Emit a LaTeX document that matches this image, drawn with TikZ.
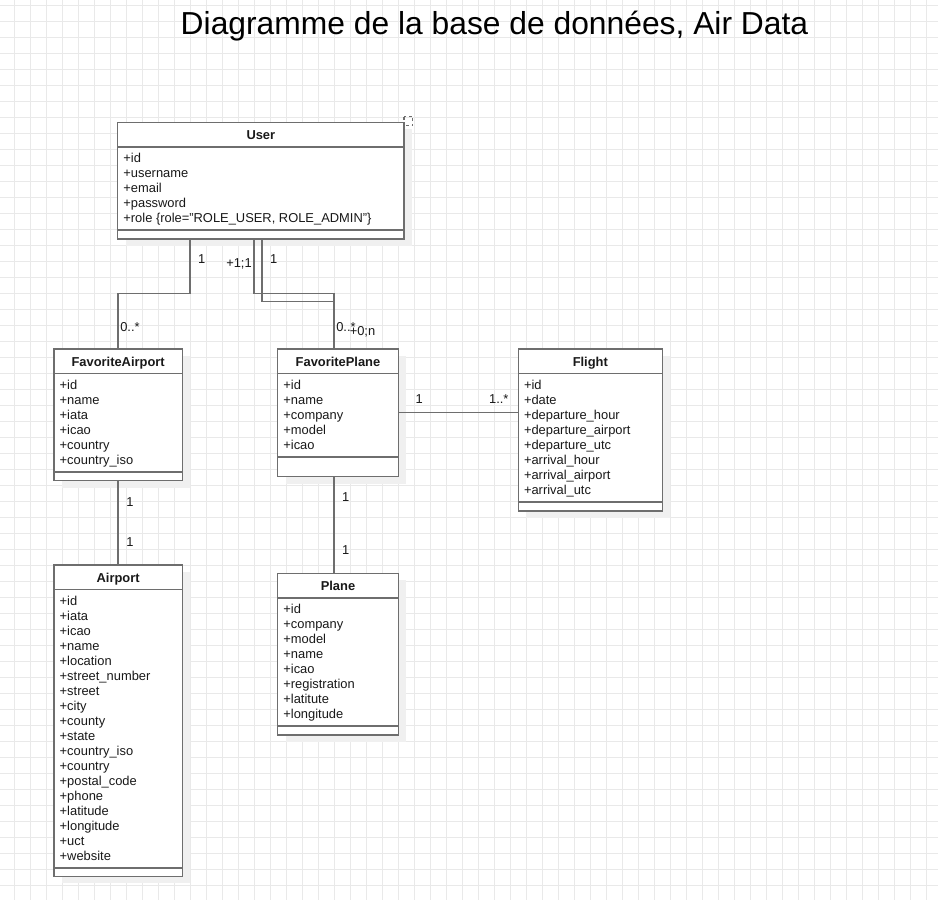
\documentclass[tikz,border=0pt]{standalone}
\usepackage{fontspec}
\setmainfont{Liberation Sans}
\usetikzlibrary{calc}
\definecolor{gridc}{RGB}{233,233,233}
\definecolor{shadc}{RGB}{240,240,240}
\definecolor{linec}{RGB}{110,110,110}
\definecolor{txtc}{RGB}{25,25,25}
\tikzset{
 classbox/.style={draw=linec, fill=white, line width=1.5pt, inner sep=0pt, outer sep=0pt},
 sepline/.style={draw=linec, line width=1.5pt},
 conn/.style={draw=linec, line width=1.4pt},
 ctitle/.style={font=\fontsize{12.9}{15}\selectfont\bfseries, text=txtc, inner sep=0pt, anchor=base},
 attr/.style={font=\fontsize{12.9}{15}\selectfont, text=txtc, inner sep=0pt, anchor=base west},
 lbl/.style={font=\fontsize{12.9}{15}\selectfont, text=txtc, inner sep=0pt, anchor=base},
 gridline/.style={draw=gridc, line width=1pt},
}
% id, x, y, width, lines, bottom height, title, attributes
\newcommand\umlclass[8]{%
  \pgfmathsetmacro\bh{24.5+#5*15+8.3+#6}%
  \fill[shadc] ({#2+8},{#3+7}) rectangle ++(#4,\bh);
  \node[classbox, minimum width=#4, minimum height=\bh, anchor=north west] (#1) at (#2,#3) {};
  \draw[sepline] ([yshift=-24.5pt]#1.north west) -- ([yshift=-24.5pt]#1.north east);
  \draw[sepline] ([yshift=#6pt]#1.south west) -- ([yshift=#6pt]#1.south east);
  \node[ctitle] (#1-title) at ([yshift=-17pt]#1.north) {#7};
  \foreach \a [count=\i] in {#8}{%
    \pgfmathsetmacro\yy{-40-(\i-1)*15}%
    \node[attr] (#1-a\i) at ([xshift=5.5pt,yshift=\yy pt]#1.north west) {\a};
  }
}
\begin{document}
\begin{tikzpicture}[x=1pt,y=-1pt]
\useasboundingbox (0,0) rectangle (938,900);
\fill[white] (0,0) rectangle (938,900);
\foreach \k in {0,...,58} \draw[gridline] ({14.7+16*\k},0) -- ({14.7+16*\k},900);
\foreach \k in {0,...,56} \draw[gridline] (0,{5.3+16*\k}) -- (938,{5.3+16*\k});

\node[font=\fontsize{31.8}{36}\selectfont, text=black, anchor=base, inner sep=0pt] (title) at (494.5,34.3) {Diagramme de la base de données, Air Data};

\umlclass{user}{117.7}{122.3}{286.3}{5}{8.7}{User}{+id,+username,+email,+password,{+role \{role="ROLE\_USER, ROLE\_ADMIN"\}}}
\umlclass{favap}{54}{349}{128.3}{6}{8.7}{FavoriteAirport}{+id,+name,+iata,+icao,+country,+country\_iso}
\umlclass{favpl}{277.7}{349}{120.6}{5}{19.7}{FavoritePlane}{+id,+name,+company,+model,+icao}
\umlclass{flight}{518.3}{349}{144}{8}{9.2}{Flight}{+id,+date,+departure\_hour,+departure\_airport,+departure\_utc,+arrival\_hour,+arrival\_airport,+arrival\_utc}
\umlclass{airport}{54}{565}{128.3}{18}{8.5}{Airport}{+id,+iata,+icao,+name,+location,+street\_number,+street,+city,+county,+state,+country\_iso,+country,+postal\_code,+phone,+latitude,+longitude,+uct,+website}
\umlclass{plane}{277.7}{573.3}{120.6}{8}{9}{Plane}{+id,+company,+model,+name,+icao,+registration,+latitute,+longitude}

\draw[linec, line width=1.2pt, dash pattern=on 3pt off 2.5pt] (404,116.5) rectangle (412.5,125.5);

\draw[conn] ([xshift=72.3pt]user.south west) -- ++(0,54.4) -| (favap.north);
\draw[conn] ([xshift=136.3pt]user.south west) -- ++(0,54.4) -| ([xshift=56.3pt]favpl.north west);
\draw[conn] ([xshift=144.3pt]user.south west) -- ++(0,62.7) -| ([xshift=56.3pt]favpl.north west);
\draw[conn] (favap.south) -- (airport.north);
\draw[conn] ([xshift=56.3pt]favpl.south west) -- ([xshift=56.3pt]plane.north west);
\draw[conn] (favpl.east) -- (favpl.east -| flight.west);

\node[lbl] (l1) at (201.7,263.3) {1};
\node[lbl] (l2) at (239,267.6) {+1;1};
\node[lbl] (l3) at (273.7,263.3) {1};
\node[lbl] (l4) at (130,331) {0..*};
\node[lbl] (l5) at (346,331) {0..*};
\node[lbl] (l6) at (362.5,335) {+0;n};
\node[lbl] (l7) at (130,506) {1};
\node[lbl] (l8) at (130,546) {1};
\node[lbl] (l9) at (345.7,501) {1};
\node[lbl] (l10) at (345.7,554.3) {1};
\node[lbl] (l11) at (419.3,403.6) {1};
\node[lbl] (l12) at (498.8,403.6) {1..*};
\end{tikzpicture}
\end{document}
